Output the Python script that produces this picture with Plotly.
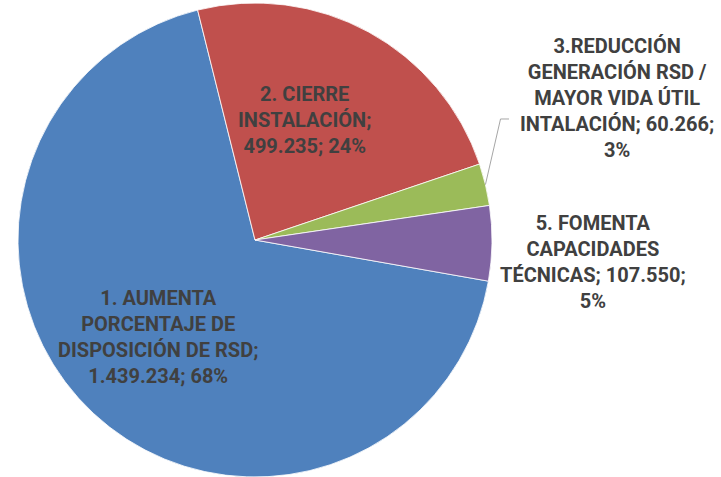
import math
import plotly.graph_objects as go

# ---- data ----
categories = [
    "1. AUMENTA PORCENTAJE DE DISPOSICIÓN DE RSD",
    "2. CIERRE INSTALACIÓN",
    "3.REDUCCIÓN GENERACIÓN RSD / MAYOR VIDA ÚTIL INTALACIÓN",
    "5. FOMENTA CAPACIDADES TÉCNICAS",
]
values = [1439234, 499235, 60266, 107550]
label_texts = [
    "1. AUMENTA<br>PORCENTAJE DE<br>DISPOSICIÓN DE RSD;<br>1.439.234; 68%",
    "2. CIERRE<br>INSTALACIÓN;<br>499.235; 24%",
    "3.REDUCCIÓN<br>GENERACIÓN RSD /<br>MAYOR VIDA ÚTIL<br>INTALACIÓN; 60.266;<br>3%",
    "5. FOMENTA<br>CAPACIDADES<br>TÉCNICAS; 107.550;<br>5%",
]
colors = ["#4F81BD", "#C0504D", "#9BBB59", "#8064A2"]

# ---- layout geometry ----
W, H = 721, 477
MT = 3
PH = H - MT


def px(x):
    return x / W


def py(y):
    return (H - y) / PH


ROT = 100.0
cx, cy = 255.0, MT + PH / 2.0
R = PH / 2.0

fig = go.Figure(
    go.Pie(
        labels=categories,
        values=values,
        sort=False,
        direction="clockwise",
        rotation=ROT,
        marker=dict(colors=colors, line=dict(color="white", width=0.8)),
        textinfo="none",
        hoverinfo="label+value+percent",
        showlegend=False,
        domain=dict(x=[0, 510 / W], y=[0, 1]),
    )
)

label_pos = [(158, 337), (304, 120), (617, 98), (593, 262)]
font = dict(family="Roboto, 'Open Sans', sans-serif", size=20, color="#404040", weight="bold")
annotations = []
for (lx, ly), t in zip(label_pos, label_texts):
    annotations.append(
        dict(
            x=px(lx), y=py(ly), xref="paper", yref="paper",
            text=t, showarrow=False, align="center",
            xanchor="center", yanchor="middle", font=font,
        )
    )

# leader line for slice 3, starting at its outer edge mid-angle
total = sum(values)
start = ROT + 360.0 * sum(values[:2]) / total
mid = start + 360.0 * values[2] / total / 2.0
mid = math.radians(mid % 360)
ex = cx + R * math.sin(mid)
ey = cy - R * math.cos(mid)
path = "M {:.4f},{:.4f} L {:.4f},{:.4f} L {:.4f},{:.4f}".format(
    px(ex), py(ey), px(500.5), py(119), px(509), py(119)
)

fig.update_layout(
    width=W, height=H,
    margin=dict(l=0, r=0, t=MT, b=0),
    paper_bgcolor="white", plot_bgcolor="white",
    annotations=annotations,
    shapes=[dict(type="path", path=path, xref="paper", yref="paper",
                 line=dict(color="#A6A6A6", width=1))],
)

fig.write_html(
    "out.html",
    config={"displayModeBar": False},
    post_script="document.body.style.margin='0';document.body.style.overflow='hidden';",
)
